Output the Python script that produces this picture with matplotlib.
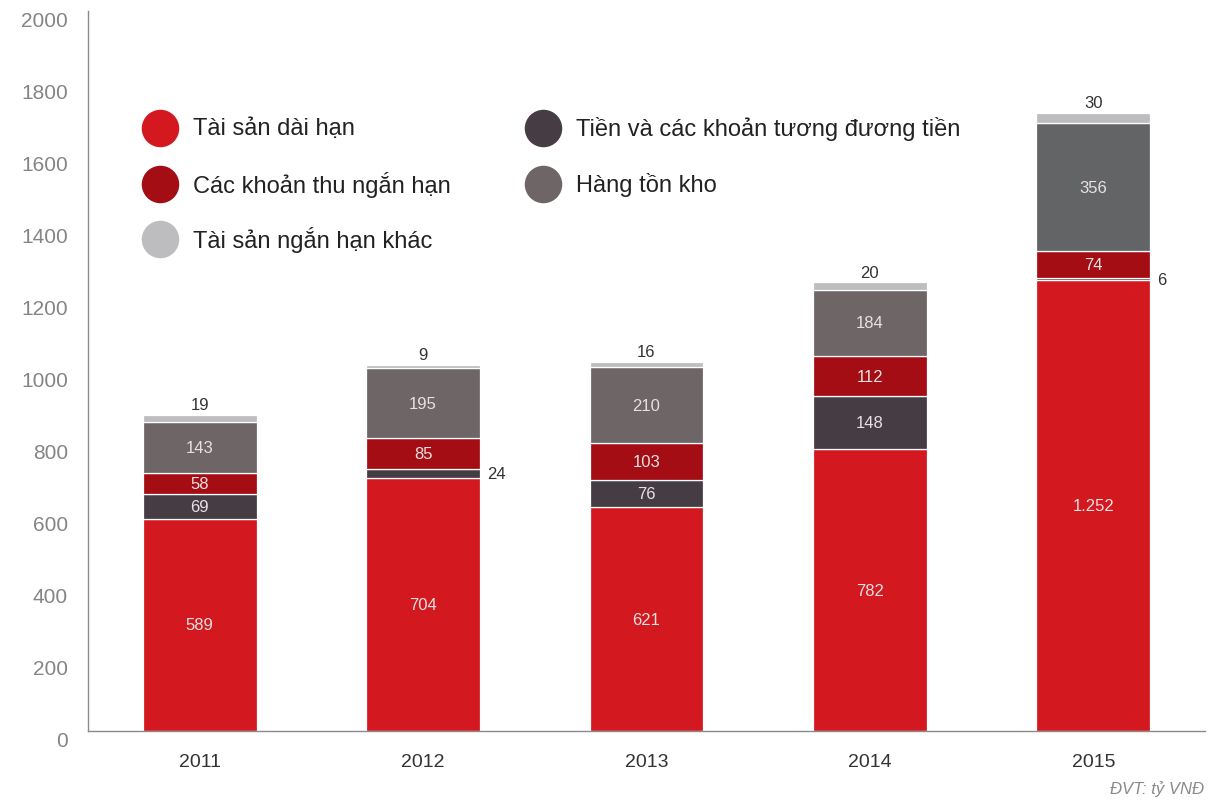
import matplotlib
matplotlib.use("Agg")
import matplotlib.pyplot as plt

plt.rcParams['font.family'] = ['Liberation Sans', 'DejaVu Sans']

years = ["2011", "2012", "2013", "2014", "2015"]
tai_san_dai_han = [589, 704, 621, 782, 1252]
tien = [69, 24, 76, 148, 6]
khoan_thu = [58, 85, 103, 112, 74]
hang_ton_kho = [143, 195, 210, 184, 356]
ngan_han_khac = [19, 9, 16, 20, 30]

series_names = [
    "Tài sản dài hạn",
    "Tiền và các khoản tương đương tiền",
    "Các khoản thu ngắn hạn",
    "Hàng tồn kho",
    "Tài sản ngắn hạn khác",
]
series_values = [tai_san_dai_han, tien, khoan_thu, hang_ton_kho, ngan_han_khac]
series_colors = ["#d3191f", "#463d44", "#a50d15", "#6e6567", "#bdbdbf"]
# the latest inventory block is drawn in a neutral grey
bar_colors = [
    [series_colors[0]] * 5,
    [series_colors[1]] * 5,
    [series_colors[2]] * 5,
    [series_colors[3]] * 4 + ["#636466"],
    [series_colors[4]] * 5,
]
yticks = [0, 200, 400, 600, 800, 1000, 1200, 1400, 1600, 1800, 2000]


def fmt(v):
    return f"{v:,}".replace(",", ".")


W, H = 1208, 812
fig = plt.figure(figsize=(W / 100, H / 100), dpi=100)
ax = fig.add_axes([88 / W, (H - 732) / H, 1117 / W, 720 / H])

x = list(range(len(years)))
width = 0.51
bottoms = [0] * len(years)
for s, (vals, cols) in enumerate(zip(series_values, bar_colors)):
    ax.bar(x, vals, width=width, bottom=bottoms, color=cols,
           edgecolor="white", linewidth=0.9, zorder=2)
    for i, v in enumerate(vals):
        mid = bottoms[i] + v / 2
        if s == len(series_values) - 1:
            ax.text(x[i], bottoms[i] + v + 8, fmt(v), ha="center", va="bottom",
                    fontsize=12, color="#333333")
        elif v < 40:
            ax.text(x[i] + width / 2 + 0.03, mid, fmt(v), ha="left", va="center",
                    fontsize=12, color="#333333")
        else:
            ax.text(x[i], mid, fmt(v), ha="center", va="center",
                    fontsize=12, color="#e6e1e2")
    bottoms = [b + v for b, v in zip(bottoms, vals)]

ax.set_xlim(-0.5, 4.5)
ax.set_ylim(0, 2000)
ax.set_xticks(x)
ax.set_xticklabels(years, fontsize=14, color="#333333")
ax.set_yticks(yticks)
ax.set_yticklabels([str(t) for t in yticks], fontsize=15, color="#858585")
for lab in ax.get_yticklabels():
    lab.set_verticalalignment("top")
ax.tick_params(axis="y", length=0, pad=14.5)
ax.tick_params(axis="x", length=0, pad=16)
for side in ["top", "right"]:
    ax.spines[side].set_visible(False)
for side in ["left", "bottom"]:
    ax.spines[side].set_color("#8a8a8a")
    ax.spines[side].set_linewidth(1.0)

# legend: two columns of circle markers with labels
legend_pos = [(160, 129), (543, 129), (160, 185), (543, 185), (160, 240)]
for (px, py), name, col in zip(legend_pos, series_names, series_colors):
    fx, fy = px / W, 1 - py / H
    fig.add_artist(plt.Line2D([fx], [fy], marker="o", markersize=27,
                              color=col, markeredgewidth=0,
                              transform=fig.transFigure))
    fig.text((px + 33) / W, fy, name, ha="left", va="center",
             fontsize=17, color="#222222")

fig.text(1204 / W, 1 - 789 / H, "ĐVT: tỷ VNĐ", ha="right", va="center",
         fontsize=12, style="italic", color="#8a8a8a")

fig.savefig("out.png", dpi=100)
